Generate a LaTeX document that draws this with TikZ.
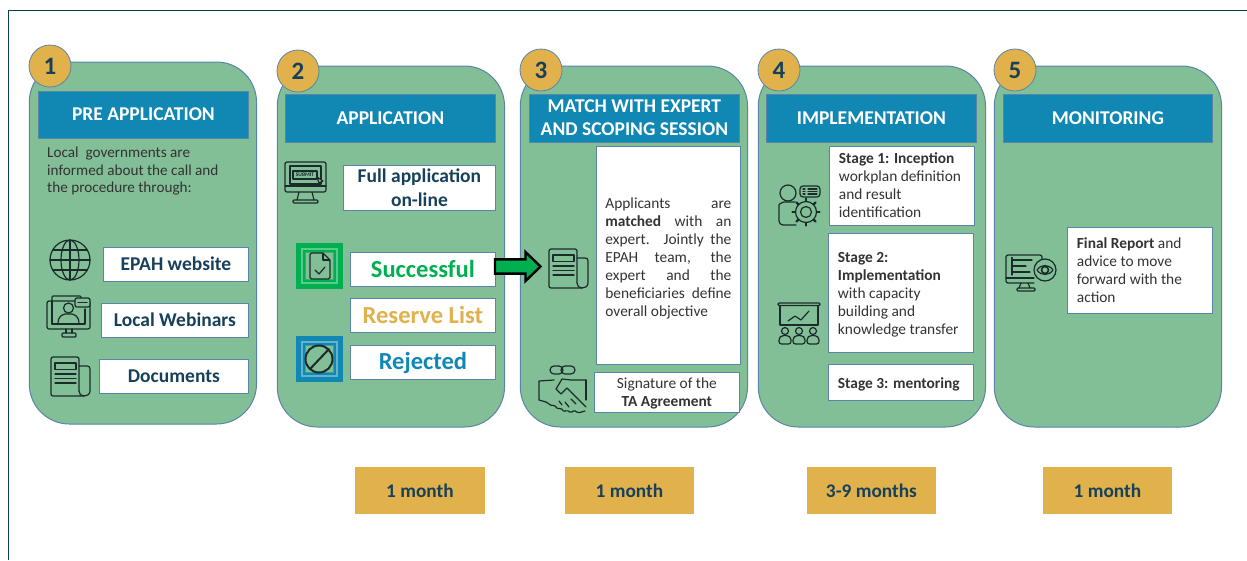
\documentclass[tikz,border=0pt]{standalone}
\usepackage{fontspec}
\setmainfont{Carlito}
\usetikzlibrary{calc}
\definecolor{panelc}{HTML}{82BE96}
\definecolor{headc}{HTML}{1088B3}
\definecolor{goldc}{HTML}{E1B14C}
\definecolor{edgec}{HTML}{5B85A8}
\definecolor{navyc}{HTML}{17405A}
\definecolor{bodyc}{HTML}{333333}
\definecolor{framec}{HTML}{0F3F4F}
\definecolor{okc}{HTML}{00B050}
\definecolor{iconc}{HTML}{1B2B2B}
\newcommand\fs[2]{\fontsize{#1}{#2}\selectfont}
\newcommand\bx[6][]{%
  \pgfmathsetmacro\cxx{(#3+#5)/2-0.1}\pgfmathsetmacro\cyy{(#4+#6)/2}%
  \pgfmathsetmacro\wxx{#5-#3-0.8}\pgfmathsetmacro\hyy{#6-#4}%
  \node[minimum width=\wxx pt,minimum height=\hyy pt,#1] (#2) at (\cxx,\cyy)}
\newcommand\docicon[2]{\begin{scope}[shift={(#1,#2)},icon]
  \draw[rounded corners=2] (28,34) -- (28,0) -- (0,0) -- (0,39) -- (33,39);
  \draw (28,9) -- (36,9) .. controls (38,9) and (39,10) .. (39,12) -- (39,34) .. controls (39,37.5) and (36,39) .. (33,39) .. controls (30,39) and (28,37) .. (28,34);
  \draw (4,6) rectangle (25,12.5);
  \draw (4,17) -- (25,17) (4,21.5) -- (25,21.5) (4,26) -- (25,26);
\end{scope}}
\tikzset{
  panel/.style={draw=edgec,line width=1pt,fill=panelc,rounded corners=40pt,inner sep=0pt,outer sep=0pt},
  head/.style={draw=edgec,line width=.8pt,fill=headc,text=white,inner sep=0pt,outer sep=0pt,align=center,font=\bfseries\fs{19.5}{23}},
  num/.style={circle,draw=edgec,line width=.8pt,fill=goldc,text=navyc,minimum size=42pt,inner sep=0pt,font=\bfseries\fs{25}{25}},
  wbox/.style={draw=edgec,line width=.9pt,fill=white,inner sep=0pt,outer sep=0pt,align=center},
  lab/.style={wbox,text=navyc,font=\bfseries\fs{19.5}{23.5}},
  big/.style={wbox,font=\bfseries\fs{24.5}{24}},
  para/.style={wbox,text=bodyc,font=\fs{15.4}{18},align=left},
  dur/.style={fill=goldc,text=navyc,inner sep=0pt,outer sep=0pt,font=\bfseries\fs{19.3}{20}},
  icon/.style={draw=iconc,line width=1.2pt,line join=round,line cap=round},
}
\begin{document}
\begin{tikzpicture}[x=1pt,y=-1pt]
\useasboundingbox (0,0) rectangle (1247,560);
\fill[white] (0,0) rectangle (1247,560);
\coordinate (fa) at (8.5,560); \coordinate (fb) at (8.5,10.5); \coordinate (fc) at (1247,10.5);
\draw[framec,line width=1.1pt] (fa) -- (fb) -- (fc);
% panels
\bx[panel]{p1}{29}{62}{257}{424}{};
\bx[panel]{p2}{277}{66}{505}{427}{};
\bx[panel]{p3}{520}{66}{748}{427}{};
\bx[panel]{p4}{758}{66}{986}{427}{};
\bx[panel]{p5}{994}{66}{1222}{427}{};
% headers
\bx[head]{h1}{38}{91}{249}{138}{PRE APPLICATION};
\bx[head]{h2}{285}{94}{496}{142}{APPLICATION};
\bx[head]{h3}{529}{94}{740}{142}{MATCH WITH EXPERT\\AND SCOPING SESSION};
\bx[head]{h4}{766}{94}{977}{142}{IMPLEMENTATION};
\bx[head]{h5}{1003}{94}{1213}{142}{MONITORING};
% numbers
\node[num] (n1) at (50,66) {1};
\node[num] (n2) at (298,71) {2};
\node[num] (n3) at (541,70) {3};
\node[num] (n4) at (779,70) {4};
\node[num] (n5) at (1015,70) {5};
% panel 1
\node[anchor=north west,inner sep=0pt,text=bodyc,align=left,font=\fs{15.2}{17.8}] (intro) at (47,146.5)
  {Local\ \ governments are\\informed about the call and\\the procedure through:};
\bx[lab]{web}{103}{247}{249}{281}{\raisebox{1pt}{EPAH website}};
\bx[lab]{lw}{101}{303}{249}{337}{Local Webinars};
\bx[lab]{docs}{99}{359}{249}{393}{Documents};
% panel 2
\bx[lab]{full}{343}{165}{496}{210}{Full application\\on-line};
\bx[big,text=okc]{succ}{350}{252}{496}{286}{Successful};
\bx[big,text=goldc]{res}{350}{298}{496}{332}{Reserve List};
\bx[big,text=headc]{rej}{350}{345}{496}{379}{\rule{0pt}{20pt}Rejected};
% panel 3
\bx[para]{match}{596}{146}{741}{364}{%
  \rule{0pt}{17pt}\makebox[126pt][s]{Applicants are}\\
  \makebox[126pt][s]{\textbf{matched} with an}\\
  \makebox[126pt][s]{expert. Jointly the}\\
  \makebox[126pt][s]{EPAH team, the}\\
  \makebox[126pt][s]{expert and the}\\
  \makebox[126pt][s]{beneficiaries define}\\
  overall objective};
\bx[para,align=center]{sig}{594}{372}{740}{412}{\rule{0pt}{14pt}Signature of the\\\textbf{TA Agreement}};
% panel 4
\bx[para]{s1}{829}{146}{975}{225}{\makebox[126pt][l]{\textbf{Stage 1: Inception}}\\workplan definition\\and result\\identification};
\bx[para]{s2}{828}{233}{974}{352}{\rule{0pt}{15pt}\makebox[126pt][l]{\textbf{Stage 2:}}\\\textbf{Implementation}\\with capacity\\building and\\knowledge transfer};
\bx[para]{s3}{828}{364}{974}{400}{\rule{0pt}{16pt}\makebox[126pt][l]{\textbf{Stage 3: mentoring}}};
% panel 5
\bx[para]{fin}{1067}{227}{1213}{313}{\makebox[126pt][l]{\textbf{Final Report} and}\\advice to move\\forward with the\\action};
% durations
\bx[dur]{d2}{355}{467}{485}{514}{1 month};
\bx[dur]{d3}{565}{467}{694}{514}{1 month};
\bx[dur]{d4}{807}{467}{936}{514}{3-9 months};
\bx[dur]{d5}{1043}{467}{1172}{514}{1 month};
% arrow from Successful towards the document icon
\draw[black,line width=2.4pt,fill=okc,line join=miter,miter limit=10]
  ($(succ.east)+(-.5,-9.6)$) -- ++(30.5,0) -- ++(0,-7.4) -- ++(15,14.5) -- ++(-15,14.5) -- ++(0,-7.4) -- ++(-30.5,0) -- cycle;
% globe
\begin{scope}[shift={(70,260)},icon]
  \draw (0,0) circle (20);
  \draw (0,0) ellipse (9 and 20);
  \draw (0,-20) -- (0,20) (-20,0) -- (20,0);
  \draw (-17,-10) -- (17,-10) (-17,10) -- (17,10);
\end{scope}
% webinar
\begin{scope}[shift={(47,295)},icon]
  \draw[rounded corners=2] (0,6) rectangle (43,34);
  \draw[rounded corners=1] (5,6) -- (5,1) -- (34,1) -- (34,3);
  \draw (5,29) -- (38,29) (38,29) -- (38,14);
  \draw (5,6) -- (5,29);
  \draw[fill=panelc,rounded corners=2] (28,3) rectangle (43,12);
  \draw (31,7.5) -- (40,7.5);
  \draw (21.5,13) circle (5);
  \draw (11,29) .. controls (11,21) and (15,20) .. (18,19) -- (25,19) .. controls (28,20) and (32,21) .. (32,29);
  \draw (19,34) -- (19,38) (25,34) -- (25,38);
  \draw[rounded corners=1] (15,38) rectangle (29,42);
\end{scope}
\docicon{51}{357}
% submit monitor
\begin{scope}[shift={(285,162)},icon]
  \draw[rounded corners=2] (0,0) rectangle (41,30);
  \draw (5,4) rectangle (36,22);
  \draw (0,24) -- (41,24);
  \draw (8,9) rectangle (32,17);
  \node[inner sep=0pt,text=iconc,font=\bfseries\fs{5.5}{6}] (sub) at (20,13) {SUBMIT};
  \draw[fill=panelc] (32,15) -- (38,19) -- (34,21) -- cycle;
  \draw (14,30) -- (12,38) (27,30) -- (29,38);
  \draw[rounded corners=1] (8,38) rectangle (33,41);
\end{scope}
% status squares
\fill[okc] (296,243) rectangle (343,289);
\fill[okc!65!white] (301,248) rectangle (338,284);
\fill[okc] (303,250) rectangle (336,282);
\fill[okc!65!panelc] (305,252) rectangle (334,280);
\fill[panelc] (306,253) rectangle (333,279);
\begin{scope}[icon]
  \draw[rounded corners=1.5] (323,253) -- (310,253) -- (310,279) -- (330,279) -- (330,260) -- cycle;
  \draw (323,253) -- (323,260) -- (330,260);
  \draw (315,270) -- (319,274) -- (325,267);
\end{scope}
\fill[headc] (296,336) rectangle (343,382);
\fill[headc!65!white] (301,341) rectangle (338,377);
\fill[headc] (303,343) rectangle (336,375);
\fill[headc!60!panelc] (305,345) rectangle (334,373);
\fill[panelc] (306,346) rectangle (333,372);
\draw[icon,line width=2pt] (319,359) circle (13.5) (310,369) -- (329,349);
\docicon{549}{249}
% handshake
\begin{scope}[shift={(538,364)},icon]
  \draw[rounded corners=4] (12,2) rectangle (25,10);
  \draw[rounded corners=4] (23,2) rectangle (37,10);
  \draw (16,16) -- (1,17) -- (1,36) -- (8,38);
  \draw (48,16) -- (33,16) -- (24,15) -- (18,25) -- (23,30) -- (29,24) -- (48,43);
  \draw (48,16) -- (48,36);
  \draw[rounded corners=1.5] (8,38) -- (14,42) -- (17,41) -- (19,45) -- (23,44) -- (26,48) -- (29,46) -- (33,49) -- (36,46) -- (40,49) -- (47,47);
  \draw (33,35) -- (38,40) (27,38) -- (31,43) (21,37) -- (24,41);
\end{scope}
% user + gear
\begin{scope}[shift={(779,185)},icon]
  \draw (9,8) circle (8);
  \draw[rounded corners=4] (17,40) -- (0,40) -- (0,24) .. controls (0,19) and (4,17) .. (9,17) -- (16,17);
  \draw[rounded corners=3] (21,1) rectangle (41,12);
  \draw (29,4) -- (38,4) (29,6.5) -- (38,6.5) (29,9) -- (38,9);
  \draw (24,4) -- (26,4) (24,6.5) -- (26,6.5) (24,9) -- (26,9);
  \draw[fill=panelc] (27,27) circle (10.5);
  \draw[fill=panelc] (27,27) circle (5.5);
  \foreach \a in {0,45,...,315}{\draw[line width=2.4pt,shift={(27,27)}] (\a:11) -- (\a:13.5);}
\end{scope}
% presentation
\begin{scope}[shift={(778,302)},icon]
  \draw[rounded corners=1] (0,1) rectangle (42,3.5);
  \draw (2,3.5) rectangle (40,23);
  \draw (10,19) -- (17,14) -- (23,18) -- (31,9);
  \foreach \c in {7,21,35}{
    \draw (\c,29) circle (3.5);
    \draw[rounded corners=2.5] (\c-6,42) -- (\c-6,36) -- (\c-3,33.5) -- (\c+3,33.5) -- (\c+6,36) -- (\c+6,42) -- cycle;
  }
\end{scope}
% monitor + eye
\begin{scope}[shift={(1006,253)},icon]
  \draw[rounded corners=2] (28,30) -- (0,30) -- (0,2) -- (36,2) -- (36,6);
  \draw (0,25) -- (28,25);
  \draw (6,7) -- (26,7) (6,13) -- (20,13) (6,19) -- (24,19);
  \draw (6,4.5) -- (6,22);
  \draw (39,17) circle (11);
  \draw (31,17) .. controls (35,11) and (43,11) .. (47,17) .. controls (43,23) and (35,23) .. (31,17);
  \draw[line width=1.6pt] (39,17) circle (3.5);
  \draw (15,30) -- (13,35) (22,30) -- (24,35);
  \draw[rounded corners=1] (11,35) rectangle (29,38);
\end{scope}
\end{tikzpicture}
\end{document}
